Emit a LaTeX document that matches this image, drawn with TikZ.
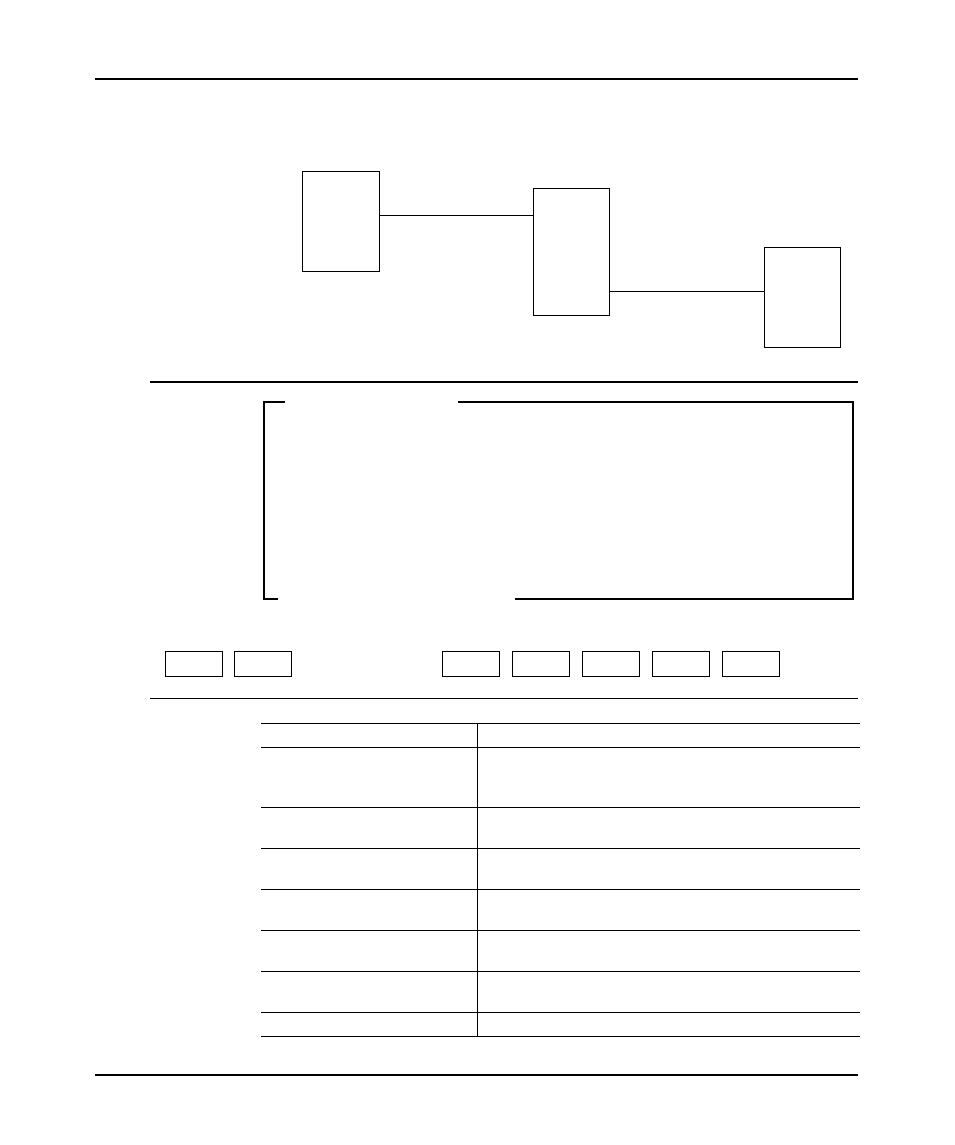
\documentclass[tikz,border=0pt]{standalone}
\usetikzlibrary{positioning}
\tikzset{%
    unit/.style={rectangle, draw, line width=1pt, inner sep=0pt, minimum width=77pt, minimum height=100pt},
    key/.style={rectangle, draw, line width=1pt, inner sep=0pt, minimum width=57pt, minimum height=25pt},
    rule/.style={draw, line width=2pt},
    hairline/.style={draw, line width=1pt},
    frame/.style={draw, line width=1.6pt}
}

\begin{document}
\begin{tikzpicture}[x=1pt, y=-1pt]
    \useasboundingbox (0,0) rectangle (954,1145);
    % header rule
    \draw[rule] (95,79) -- (858,79);
    % three units
    \node[unit] (ctrl) at (340.5,221) {};
    \node[unit, minimum width=76pt, minimum height=127pt] (hub) at (571,251.5) {};
    \node[unit, minimum width=76pt] (dev) at (802,297) {};
    \draw[hairline] ([yshift=6pt]ctrl.east) -- ([yshift=6pt]ctrl.east -| hub.west);
    \draw[hairline] ([yshift=-39.5pt]hub.east) -- ([yshift=-39.5pt]hub.east -| dev.west);
    \draw[rule] (150,382) -- (858,382);
    % open frame
    \draw[frame] (285,402) -- (264,402) -- (264,599) -- (278,599);
    \draw[frame] (458,402) -- (853,402) -- (853,599) -- (515,599);
    % key row
    \node[key] (k1) at (193.5,663.5) {};
    \node[key, right=11pt of k1] (k2) {};
    \node[key] (k3) at (470.5,663.5) {};
    \node[key, right=12pt of k3] (k4) {};
    \node[key, right=12pt of k4] (k5) {};
    \node[key, right=12pt of k5] (k6) {};
    \node[key, right=12pt of k6] (k7) {};
    \draw[hairline] (150,698) -- (858,698);
    % table
    \foreach \y in {723,747,807,848,889,930,971,1012,1036}
        \draw[hairline] (261,\y) -- (860,\y);
    \draw[hairline] (477,723) -- (477,1036);
    % footer rule
    \draw[rule] (95,1075) -- (858,1075);
\end{tikzpicture}
\end{document}
